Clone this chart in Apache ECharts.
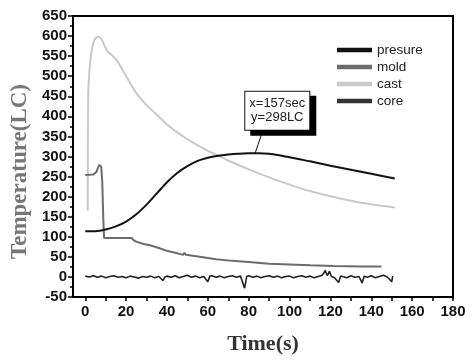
<!DOCTYPE html>
<html><head><meta charset="utf-8">
<script src="https://cdn.jsdelivr.net/npm/echarts@6.0.0/dist/echarts.min.js"></script>
<style>html,body{margin:0;padding:0;background:#fff}#c{width:473px;height:362px}</style>
</head><body><div id="c"></div>
<script>
// ---- data (time s, temperature) ----
const seriesNames = ['presure', 'mold', 'cast', 'core'];
const xTickValues = [0, 20, 40, 60, 80, 100, 120, 140, 160, 180];
const xAllTickValues = [0, 10, 20, 30, 40, 50, 60, 70, 80, 90, 100, 110, 120, 130, 140, 150, 160, 170, 180];
const presureData = [[0,114],[5,114],[10,118],[15,126],[20,138],[25,156],[30,180],[35,208],[40,236],[45,259],[50,276],[55,289],[60,297],[65,302],[70,305],[75,307],[80,308],[85,308],[90,307],[95,303],[100,298],[105,293],[110,288],[120,277],[130,267],[140,257],[151.5,245]];
const moldData = [[0,254],[4,255],[5.5,262],[6.8,279],[7.8,275],[8.3,240],[8.8,150],[9.2,97],[12,97],[22.8,97],[23.5,92],[25,88],[28.5,82],[31.8,79],[36,72],[40,65],[44,60],[48,55],[48.6,60],[49.2,55],[56,50],[64,44],[72,40],[80,37],[90,33],[100,31],[110,29],[121.5,27],[135,26],[145,26]];
const castData = [[1.2,165],[1.4,440],[2,510],[3,560],[4,583],[5,594],[6.5,598],[8,592],[9.5,575],[11,561],[13,553],[15,542],[17,527],[20,500],[25,458],[30,428],[35,404],[40,380],[45,360],[50,343],[55,328],[60,314],[65,302],[70,290],[80,268],[90,248],[100,230],[110,214],[120,201],[130,190],[140,181],[151.5,173]];
const coreData = [[0,2],[2,0],[4,3],[6,-1],[8,2],[10,-2],[12,1],[14,3],[16,-1],[18,1],[20,-2],[22,2],[24,0],[26,-3],[28,1],[30,-1],[32,2],[34,-2],[36,1],[38,-9],[39,0],[40,2],[42,-1],[44,3],[46,-2],[48,1],[50,4],[52,-1],[54,2],[56,-2],[58,1],[60,-12],[61,2],[62,3],[64,-1],[66,2],[68,-2],[70,1],[72,3],[74,-1],[76,2],[78,-28],[79,1],[80,3],[82,-1],[84,2],[86,-2],[88,1],[90,3],[92,-1],[94,2],[96,-2],[98,1],[100,2],[102,-2],[104,1],[106,3],[108,-1],[110,2],[112,-2],[114,1],[116,4],[117.5,16],[118.5,3],[119.5,14],[120.5,1],[122,-2],[124,-14],[125,2],[126,1],[128,-2],[130,3],[132,-1],[134,1],[135.5,-15],[136.5,2],[138,-1],[140,3],[142,-2],[144,1],[146,4],[148,-1],[150,-12],[150.5,2]];
const annotationText = ['x=157sec', 'y=298LC'];
const annotationAnchor = [83, 306];
const annotationBoxBottom = [87, 366];
const annotationBoxCenter = [94, 414];

const chart = echarts.init(document.getElementById('c'), null, {renderer: 'canvas'});
const lblFont = {fontFamily: 'Liberation Sans, Arial', fontWeight: 'bold', fontSize: 15, color: '#111'};
chart.setOption({
  animation: false,
  backgroundColor: '#fff',
  grid: {left: 73, right: 20, top: 16, bottom: 65, show: true, borderColor: '#000', borderWidth: 2, containLabel: false},
  legend: {
    orient: 'vertical', left: 337, top: 43, padding: 0, itemWidth: 35, itemHeight: 14, itemGap: 3,
    data: seriesNames,
    textStyle: {fontFamily: 'Liberation Sans, Arial', fontSize: 13.5, color: '#222'},
    icon: 'path://M0,0 L10,0 L10,1.3 L0,1.3 Z'
  },
  xAxis: {
    type: 'value', min: -6, max: 180,
    name: 'Time(s)', nameLocation: 'middle', nameGap: 36,
    nameTextStyle: {fontFamily: 'Liberation Serif, Times New Roman', fontWeight: 'bold', fontSize: 22, color: '#333'},
    axisLine: {show: true, onZero: false, lineStyle: {color: '#000', width: 2}},
    axisTick: {show: true, inside: false, length: 4, lineStyle: {color: '#000', width: 1.5}, customValues: xAllTickValues},
    axisLabel: Object.assign({margin: 7, customValues: xTickValues}, lblFont),
    splitLine: {show: false}
  },
  yAxis: {
    type: 'value', min: -50, max: 650, interval: 50,
    axisLine: {show: true, onZero: false, lineStyle: {color: '#000', width: 2}},
    axisTick: {show: true, length: 5, lineStyle: {color: '#000', width: 1.5}},
    minorTick: {show: true, splitNumber: 2, length: 3, lineStyle: {color: '#000', width: 1.5}},
    axisLabel: Object.assign({margin: 6}, lblFont),
    splitLine: {show: false}
  },
  graphic: [{
    type: 'text', left: 9, top: 84, rotation: Math.PI / 2,
    style: {text: 'Temperature(LC)', font: 'bold 23px "Liberation Serif", "Times New Roman", serif', fill: '#777'}
  }],
  series: [
    {name: 'presure', type: 'line', data: presureData, symbol: 'none', smooth: 0.25,
     lineStyle: {color: '#111', width: 2}, itemStyle: {color: '#111'}, z: 4,
     markLine: {silent: true, symbol: 'none', label: {show: false}, lineStyle: {color: '#111', width: 1, type: 'solid'},
       data: [[{coord: annotationAnchor}, {coord: annotationBoxBottom}]]},
     markPoint: {silent: true, symbol: 'rect', symbolSize: 0,
       data: [{coord: annotationBoxCenter, value: 0}],
       label: {show: true, position: 'inside', formatter: annotationText.join('\n'),
         fontFamily: 'Liberation Sans, Arial', fontSize: 13, lineHeight: 14, color: '#222', align: 'center', verticalAlign: 'middle',
         backgroundColor: '#fff', borderColor: '#111', borderWidth: 1, padding: [5, 4, 5, 4],
         shadowColor: '#000', shadowBlur: 0, shadowOffsetX: 6, shadowOffsetY: 5}}},
    {name: 'mold', type: 'line', data: moldData, symbol: 'none',
     lineStyle: {color: '#6c6c6c', width: 2}, itemStyle: {color: '#6c6c6c'}, z: 3},
    {name: 'cast', type: 'line', data: castData, symbol: 'none', smooth: 0.2,
     lineStyle: {color: '#c9c9c9', width: 2}, itemStyle: {color: '#c9c9c9'}, z: 2},
    {name: 'core', type: 'line', data: coreData, symbol: 'none',
     lineStyle: {color: '#222', width: 1.6}, itemStyle: {color: '#333'}, z: 3}
  ]
});
</script></body></html>
